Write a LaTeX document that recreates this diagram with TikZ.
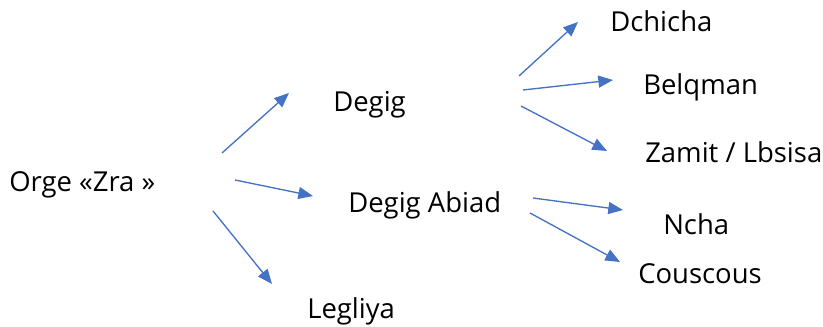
\documentclass[tikz,border=0pt]{standalone}
\usepackage{fontspec}
\setmainfont{Open Sans}
\usepackage{xcolor}
\usepackage{tikz}
\usetikzlibrary{arrows.meta, positioning}
\definecolor{arrowblue}{HTML}{4472C4}

\begin{document}
\begin{tikzpicture}[x=0.75pt, y=-0.75pt,
    word/.style={anchor=base west, inner sep=0pt, font=\fontsize{20.6}{24}\selectfont},
    link/.style={draw=arrowblue, line width=1pt,
        -{Triangle[length=11pt, width=9pt, fill=arrowblue]}}]
    \useasboundingbox (0,0) rectangle (823,327);
    % 1. Các mục
    \node[word] (orge) at (9,192) {Orge «Zra »};
    \node[word] (degig) at (333,112) {Degig};
    \node[word] (abiad) at (348,213) {Degig Abiad};
    \node[word] (legliya) at (307,318) {Legliya};
    \node[word] (dchicha) at (610,32) {Dchicha};
    \node[word] (belqman) at (643,95) {Belqman};
    \node[word] (zamit) at (645,163) {Zamit / Lbsisa};
    \node[word] (ncha) at (663,235) {Ncha};
    \node[word] (couscous) at (638,283) {Couscous};

    % 2. Điểm đầu và điểm cuối của mũi tên
    \coordinate (o1) at (222,153);  \coordinate (t1) at (289,93);
    \coordinate (o2) at (235,180);  \coordinate (t2) at (313,196);
    \coordinate (o3) at (213,211);  \coordinate (t3) at (272,284);
    \coordinate (d1) at (519,76);   \coordinate (t4) at (578,22);
    \coordinate (d2) at (523,90);   \coordinate (t5) at (613,80);
    \coordinate (d3) at (521,106);  \coordinate (t6) at (607,151);
    \coordinate (a1) at (533,198);  \coordinate (t7) at (623,210);
    \coordinate (a2) at (530,213);  \coordinate (t8) at (620,262);

    % 3. Mũi tên
    \draw[link] (o1) -- (t1);
    \draw[link] (o2) -- (t2);
    \draw[link] (o3) -- (t3);
    \draw[link] (d1) -- (t4);
    \draw[link] (d2) -- (t5);
    \draw[link] (d3) -- (t6);
    \draw[link] (a1) -- (t7);
    \draw[link] (a2) -- (t8);
\end{tikzpicture}
\end{document}
